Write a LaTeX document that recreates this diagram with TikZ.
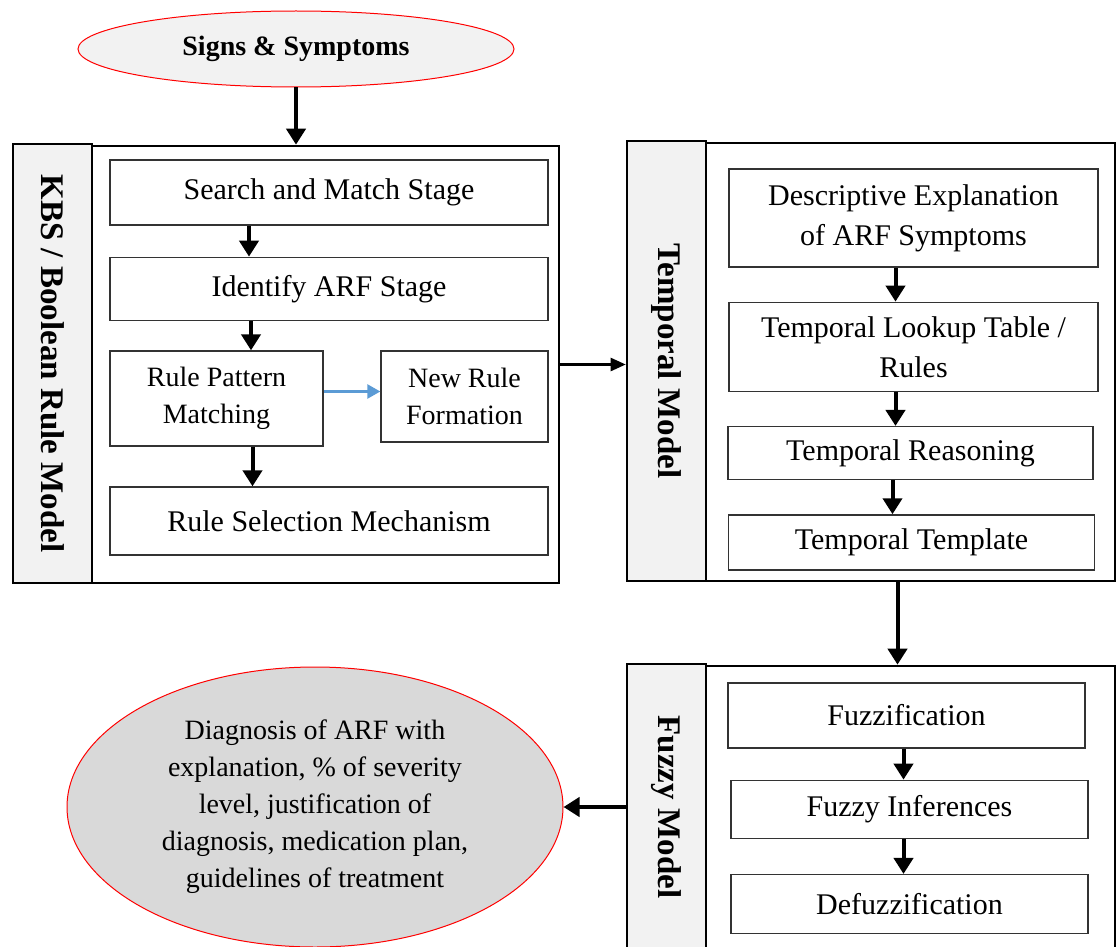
\documentclass[tikz,border=0pt]{standalone}
\usepackage{fontspec}
\setmainfont{Liberation Serif}
\usepackage{xcolor}
\usepackage{tikz}
\usetikzlibrary{arrows.meta,shapes.geometric}
\usetikzlibrary{calc}
\usetikzlibrary{positioning}

\definecolor{stripgray}{HTML}{F2F2F2}
\definecolor{ovalgray}{HTML}{D9D9D9}
\definecolor{linkblue}{HTML}{5B9BD5}

\begin{document}
\begin{tikzpicture}[x=1pt,y=-1pt,semithick]
	\tikzstyle{box}=[draw=black!80, line width=1.3pt, inner sep=0pt, align=center, font=\fontsize{30}{40}\selectfont]
	\tikzstyle{smallbox}=[box, font=\fontsize{28}{37}\selectfont]
	\tikzstyle{panel}=[draw, line width=2.6pt, inner sep=0pt]
	\tikzstyle{strip}=[panel, fill=stripgray, rotate=-90, font=\fontsize{33}{33}\selectfont\bfseries]
	\tikzstyle{oval}=[ellipse, draw=red, line width=1pt, inner sep=0pt, align=center]
	\tikzstyle{arr}=[line width=4pt, -{Triangle[length=16pt,width=19pt]}]
	\tikzstyle{thinarr}=[line width=2.4pt, -{Triangle[length=15pt,width=13pt]}]
	\tikzstyle{bluearr}=[linkblue, line width=2.4pt, -{Triangle[length=13pt,width=14pt]}]

	\useasboundingbox (0,0) rectangle (1117,947);
	\clip (0,0) rectangle (1117,947);

	% input
	\node[oval, fill=stripgray, minimum width=436pt, minimum height=76pt, font=\fontsize{28}{28}\selectfont\bfseries] (ss) at (296,49) {Signs \& Symptoms};

	% KBS / Boolean rule model
	\node[strip, minimum width=439pt, minimum height=79pt] (ks) at (52.5,363.5) {KBS / Boolean Rule Model};
	\node[panel, minimum width=467pt, minimum height=437pt] (kbs) at (325.5,364.5) {};
	\node[box, minimum width=438pt, minimum height=65pt] (s1) at (329,192.5) {Search and Match Stage};
	\node[box, minimum width=438pt, minimum height=63pt] (s2) [below=31pt of s1] {Identify ARF Stage};
	\node[smallbox, minimum width=213pt, minimum height=95pt] (rp) at (216.5,398.5) {Rule Pattern\\Matching};
	\node[smallbox, minimum width=167pt, minimum height=91pt] (nr) at (464.5,396.5) {New Rule\\Formation};
	\node[box, minimum width=438pt, minimum height=68pt] (rs) at (329,521) {Rule Selection Mechanism};

	% temporal model
	\node[strip, minimum width=440pt, minimum height=79pt] (ts) at (666.5,361) {Temporal Model};
	\node[panel, minimum width=409pt, minimum height=438pt] (tm) at (910.5,362) {};
	\node[box, minimum width=369pt, minimum height=98pt] (t1) at (913.5,218) {Descriptive Explanation\\of ARF Symptoms};
	\node[box, minimum width=369pt, minimum height=89pt] (t2) [below=34pt of t1] {Temporal Lookup Table /\\Rules};
	\node[box, minimum width=365pt, minimum height=53pt] (t3) [below=34pt of t2, xshift=-3pt] {Temporal Reasoning};
	\node[box, minimum width=366pt, minimum height=55pt] (t4) [below=34pt of t3, xshift=1pt] {Temporal Template};

	% fuzzy model
	\node[strip, minimum width=286pt, minimum height=79pt] (fs) at (666.5,807) {Fuzzy Model};
	\node[panel, minimum width=409pt, minimum height=284pt] (fm) at (910.5,808) {};
	\node[box, minimum width=357pt, minimum height=65pt] (f1) at (906.5,715.5) {Fuzzification};
	\node[box, minimum width=357pt, minimum height=58pt] (f2) [below=31pt of f1, xshift=3pt] {Fuzzy Inferences};
	\node[box, minimum width=357pt, minimum height=59pt] (f3) [below=35pt of f2] {Defuzzification};

	% output
	\node[oval, fill=ovalgray, minimum width=496pt, minimum height=280pt, font=\fontsize{28}{37}\selectfont] (dg) at (315,807)
		{Diagnosis of ARF with\\explanation, \% of severity\\level, justification of\\diagnosis, medication plan,\\guidelines of treatment};

	\draw[arr] (ss.south) -- (ss.south |- kbs.north);
	\draw[arr] ([xshift=-80pt]s1.south) -- ([xshift=-80pt]s2.north);
	\draw[arr] ([xshift=-78pt]s2.south) -- ([xshift=-78pt]s2.south |- rp.north);
	\draw[arr] ([xshift=36pt]rp.south) -- ([xshift=36pt]rp.south |- rs.north);
	\draw[bluearr] ([yshift=7pt]rp.east) -- ([yshift=7pt]rp.east -| nr.west);

	\draw[thinarr] (kbs.east) -- (kbs.east -| ts.south);
		\foreach \a/\b in {t1/t2,t2/t3,t3/t4}{
			\draw[arr] ([xshift=-18pt]\a.south) -- ([xshift=-18pt]\a.south |- \b.north);
			}
	\draw[arr] ([xshift=-13pt]tm.south) -- ([xshift=-13pt]tm.south |- fm.north);
		\foreach \a/\b in {f1/f2,f2/f3}{
			\draw[arr] ([xshift=-6pt]\a.south -| f2) -- ([xshift=-6pt]\b.north);
			}
	\draw[arr] (dg.east -| fs.south) -- (dg.east);
\end{tikzpicture}
\end{document}
